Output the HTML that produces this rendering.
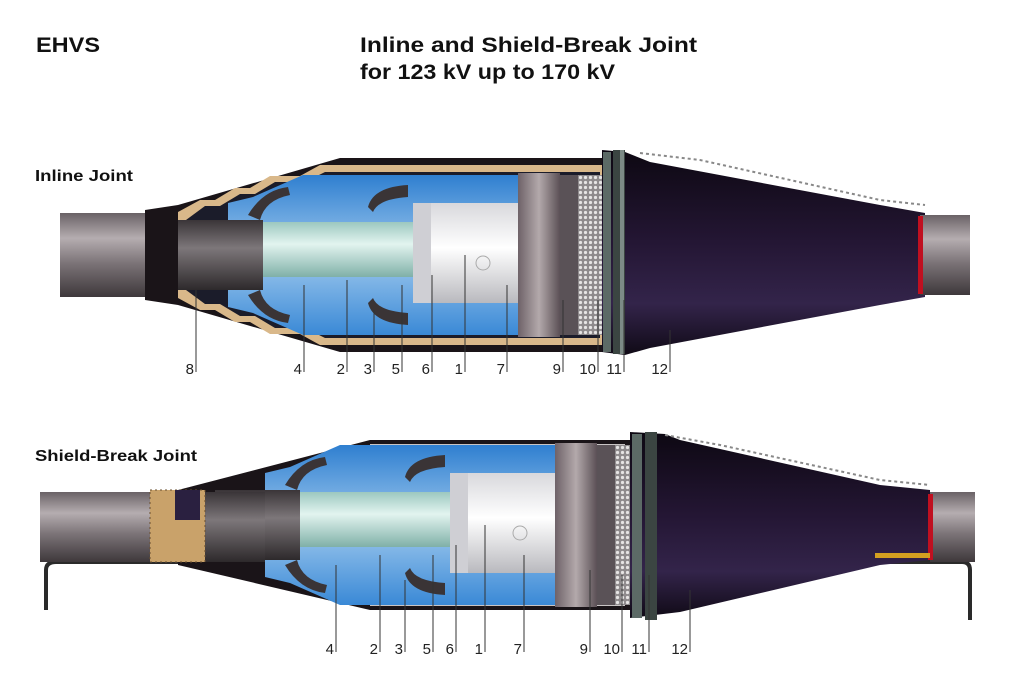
<!DOCTYPE html>
<html><head><meta charset="utf-8"><style>
html,body{margin:0;padding:0;background:#fff;width:1024px;height:682px;overflow:hidden}
svg{display:block}
text{font-family:"Liberation Sans",sans-serif}
</style></head><body>
<svg width="1024" height="682" viewBox="0 0 1024 682" xmlns="http://www.w3.org/2000/svg">
<defs>
<linearGradient id="cab" x1="0" y1="0" x2="0" y2="1">
<stop offset="0" stop-color="#6a6266"/><stop offset="0.3" stop-color="#b5adb0"/><stop offset="0.6" stop-color="#7b7377"/><stop offset="1" stop-color="#3e383b"/></linearGradient>
<linearGradient id="ins" x1="0" y1="0" x2="0" y2="1">
<stop offset="0" stop-color="#3a3538"/><stop offset="0.4" stop-color="#7d777a"/><stop offset="1" stop-color="#2d292b"/></linearGradient>
<linearGradient id="grn" x1="0" y1="0" x2="0" y2="1">
<stop offset="0" stop-color="#9cc8c0"/><stop offset="0.4" stop-color="#e2f4ef"/><stop offset="1" stop-color="#7fb0a8"/></linearGradient>
<linearGradient id="blu" x1="0" y1="0" x2="0" y2="1">
<stop offset="0" stop-color="#2f7fd0"/><stop offset="0.5" stop-color="#9fc9ee"/><stop offset="1" stop-color="#3a89d6"/></linearGradient>
<linearGradient id="wht" x1="0" y1="0" x2="0" y2="1">
<stop offset="0" stop-color="#d8d8dc"/><stop offset="0.45" stop-color="#ffffff"/><stop offset="1" stop-color="#b9b9be"/></linearGradient>
<linearGradient id="ring" x1="0" y1="0" x2="1" y2="0">
<stop offset="0" stop-color="#6e6268"/><stop offset="0.5" stop-color="#b3a9ab"/><stop offset="1" stop-color="#5b5056"/></linearGradient>
<linearGradient id="body" x1="0" y1="0" x2="0" y2="1">
<stop offset="0" stop-color="#0d0812"/><stop offset="0.45" stop-color="#241634"/><stop offset="0.75" stop-color="#33244a"/><stop offset="1" stop-color="#100a16"/></linearGradient>
<pattern id="mesh" width="5" height="5" patternUnits="userSpaceOnUse">
<rect width="5" height="5" fill="#8e8a8c"/><circle cx="2.5" cy="2.5" r="1.6" fill="#e6e4e4"/></pattern>
<g id="core">
<path d="M0,-52 L25,-58 L75,-80 L290,-80 L290,80 L75,80 L25,58 L0,52Z" fill="url(#blu)"/>
<rect x="-50" y="-35" width="85" height="70" fill="url(#ins)"/>
<rect x="35" y="-33" width="160" height="55" fill="url(#grn)"/>
<path d="M20,-40 q15,-25 40,-28 l2,8 q-25,5 -30,25z" fill="#3a3436"/>
<path d="M20,40 q15,25 40,28 l2,-8 q-25,-5 -30,-25z" fill="#3a3436"/>
<path d="M140,-48 q5,-20 40,-22 v12 q-30,2 -35,15z" fill="#3a3436"/>
<path d="M140,48 q5,20 40,22 v-12 q-30,-2 -35,-15z" fill="#3a3436"/>
<rect x="185" y="-52" width="105" height="100" fill="url(#wht)"/>
<rect x="185" y="-52" width="18" height="100" fill="#cfcfd4"/>
<circle cx="255" cy="8" r="7" fill="none" stroke="#aaa"/>
<rect x="290" y="-82" width="42" height="164" fill="url(#ring)"/>
<rect x="332" y="-80" width="18" height="160" fill="#5a5257"/>
<rect x="350" y="-80" width="25" height="160" fill="url(#mesh)"/>
</g>
</defs>

<text x="36" y="52" font-size="21" font-weight="bold" fill="#111" textLength="64" lengthAdjust="spacingAndGlyphs">EHVS</text>
<text x="360" y="52" font-size="21" font-weight="bold" fill="#111" textLength="337" lengthAdjust="spacingAndGlyphs">Inline and Shield-Break Joint</text>
<text x="360" y="79" font-size="21" font-weight="bold" fill="#111" textLength="255" lengthAdjust="spacingAndGlyphs">for 123 kV up to 170 kV</text>
<text x="35" y="181" font-size="16" font-weight="bold" fill="#111" textLength="98" lengthAdjust="spacingAndGlyphs">Inline Joint</text>
<text x="35" y="461" font-size="16" font-weight="bold" fill="#111" textLength="162" lengthAdjust="spacingAndGlyphs">Shield-Break Joint</text>

<!-- INLINE -->
<g>
<rect x="60" y="213" width="130" height="84" fill="url(#cab)"/>
<path d="M145,210 L178,205 L340,158 L610,158 L610,352 L340,352 L178,305 L145,300Z" fill="#1a1418"/>
<path d="M178,212 L200,200 L215,200 L235,188 L250,188 L270,176 L300,176 L320,165 L605,165 L605,345 L320,345 L300,334 L270,334 L250,322 L235,322 L215,310 L200,310 L178,298Z" fill="#d9b88a"/>
<path d="M186,220 L205,206 L220,206 L240,194 L255,194 L275,182 L305,182 L325,172 L600,172 L600,338 L325,338 L305,328 L275,328 L255,316 L240,316 L220,304 L205,304 L186,290Z" fill="#1b1c2a"/>
<use href="#core" x="228" y="255"/>
<rect x="180" y="220" width="48" height="70" fill="url(#ins)"/>
<path d="M602,150 L625,152 L650,162 L880,205 L925,213 L925,297 L880,305 L650,348 L625,355 L602,352Z" fill="url(#body)"/>
<rect x="603" y="152" width="8" height="200" fill="#5c6a66"/>
<rect x="613" y="150" width="12" height="204" fill="#3b4542"/>
<rect x="620" y="150" width="4" height="204" fill="#7c8a86"/>
<path d="M640,153 L700,160 L880,200 L925,205" fill="none" stroke="#888" stroke-width="2" stroke-dasharray="3,3"/>
<rect x="920" y="215" width="50" height="80" fill="url(#cab)"/>
<rect x="918" y="216" width="5" height="78" fill="#c01020"/>
<g stroke="#333" stroke-width="1">
<line x1="196" y1="290" x2="196" y2="372"/><line x1="304" y1="285" x2="304" y2="372"/>
<line x1="347" y1="280" x2="347" y2="372"/><line x1="374" y1="310" x2="374" y2="372"/>
<line x1="402" y1="285" x2="402" y2="372"/><line x1="432" y1="275" x2="432" y2="372"/>
<line x1="465" y1="255" x2="465" y2="372"/><line x1="507" y1="285" x2="507" y2="372"/>
<line x1="563" y1="300" x2="563" y2="372"/><line x1="598" y1="300" x2="598" y2="372"/>
<line x1="624" y1="300" x2="624" y2="372"/><line x1="670" y1="330" x2="670" y2="372"/>
</g>
<g font-size="15" fill="#222" text-anchor="end">
<text x="194" y="374">8</text><text x="302" y="374">4</text><text x="345" y="374">2</text>
<text x="372" y="374">3</text><text x="400" y="374">5</text><text x="430" y="374">6</text>
<text x="463" y="374">1</text><text x="505" y="374">7</text><text x="561" y="374">9</text>
<text x="596" y="374">10</text><text x="622" y="374">11</text><text x="668" y="374">12</text>
</g>
</g>

<!-- SHIELD-BREAK -->
<g>
<path d="M46,610 L46,570 Q46,562 56,562 L190,562" fill="none" stroke="#2a2a2a" stroke-width="4"/>
<path d="M880,562 L962,562 Q970,562 970,570 L970,620" fill="none" stroke="#2a2a2a" stroke-width="4"/>
<rect x="40" y="492" width="160" height="70" fill="url(#cab)"/>
<path d="M178,490 L370,440 L630,440 L630,610 L370,610 L178,565Z" fill="#1a1418"/>
<path d="M370,444 L625,444 L625,606 L370,606Z" fill="#c8c4c4"/>
<use href="#core" x="265" y="525"/>
<rect x="200" y="492" width="65" height="70" fill="url(#ins)"/>
<rect x="150" y="490" width="55" height="72" fill="#c9a26a"/>
<rect x="150" y="490" width="55" height="72" fill="none" stroke="#6b5030" stroke-dasharray="2,3"/>
<rect x="175" y="490" width="25" height="30" fill="#2a2040"/>
<path d="M630,432 L665,434 L680,440 L880,485 L930,490 L930,560 L880,565 L680,612 L630,618Z" fill="url(#body)"/>
<rect x="632" y="434" width="10" height="184" fill="#5c6a66"/>
<rect x="645" y="432" width="12" height="188" fill="#3b4542"/>
<path d="M665,435 L720,445 L880,480 L930,485" fill="none" stroke="#888" stroke-width="2" stroke-dasharray="3,3"/>
<rect x="930" y="492" width="45" height="70" fill="url(#cab)"/>
<rect x="928" y="494" width="5" height="66" fill="#c01020"/>
<rect x="875" y="553" width="55" height="5" fill="#d4a020"/>
<g stroke="#333" stroke-width="1">
<line x1="336" y1="565" x2="336" y2="652"/><line x1="380" y1="555" x2="380" y2="652"/>
<line x1="405" y1="580" x2="405" y2="652"/><line x1="433" y1="555" x2="433" y2="652"/>
<line x1="456" y1="545" x2="456" y2="652"/><line x1="485" y1="525" x2="485" y2="652"/>
<line x1="524" y1="555" x2="524" y2="652"/><line x1="590" y1="570" x2="590" y2="652"/>
<line x1="622" y1="575" x2="622" y2="652"/><line x1="649" y1="575" x2="649" y2="652"/>
<line x1="690" y1="590" x2="690" y2="652"/>
</g>
<g font-size="15" fill="#222" text-anchor="end">
<text x="334" y="654">4</text><text x="378" y="654">2</text><text x="403" y="654">3</text>
<text x="431" y="654">5</text><text x="454" y="654">6</text><text x="483" y="654">1</text>
<text x="522" y="654">7</text><text x="588" y="654">9</text><text x="620" y="654">10</text>
<text x="647" y="654">11</text><text x="688" y="654">12</text>
</g>
</g>
</svg>
</body></html>
